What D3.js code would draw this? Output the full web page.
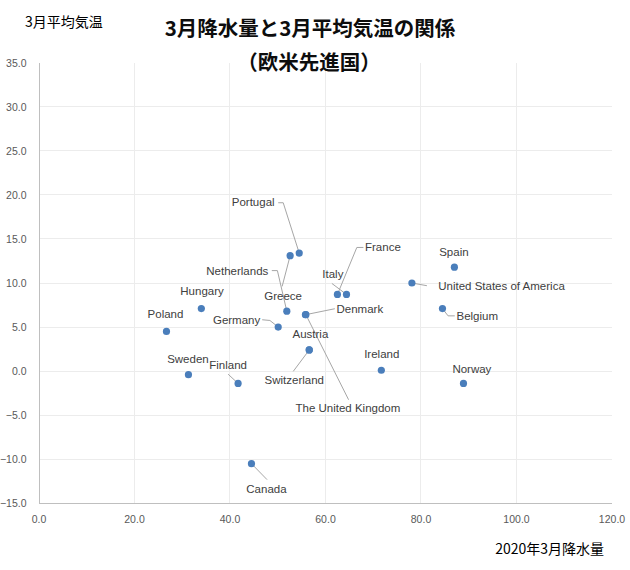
<!DOCTYPE html>
<html>
<head>
<meta charset="utf-8">
<script src="https://cdn.jsdelivr.net/npm/d3@7"></script>
<style>
  body { margin: 0; background: #fff; }
  svg { display: block; }
  .tick text { font-family: "Liberation Sans", Arial, sans-serif; font-size: 10.5px; fill: #595959; }
  .lbl { font-family: "Liberation Sans", Arial, sans-serif; font-size: 11.5px; fill: #404040; }
</style>
</head>
<body>
<svg id="chart"></svg>
<script>
// data
const countries = ["Portugal", "Greece", "Netherlands", "France", "Italy", "Denmark",
  "The United Kingdom", "Germany", "Hungary", "Poland", "Austria", "Switzerland",
  "Sweden", "Finland", "Canada", "Ireland", "Spain", "United States of America",
  "Belgium", "Norway"]
const precip = [54.6, 52.7, 52.0, 62.6, 64.5, 55.9, 56.0, 50.2, 34.1, 26.8, 56.7, 56.7,
  31.4, 41.8, 44.6, 71.8, 87.1, 78.2, 84.6, 89.0]
const temp = [13.4, 13.1, 6.8, 8.7, 8.7, 6.4, 6.4, 5.0, 7.1, 4.5, 2.4, 2.4,
  -0.4, -1.4, -10.5, 0.1, 11.8, 10.0, 7.1, -1.4]
const xTicks = [0, 20, 40, 60, 80, 100, 120]
const yTicks = [-15, -10, -5, 0, 5, 10, 15, 20, 25, 30, 35]

// label placement (pixel offsets from the point), like Excel's dragged labels
const labelPos = {
  "Portugal": [-46, -51], "Greece": [-7, 40], "Netherlands": [-49.5, -40.6],
  "France": [45.5, -47], "Italy": [-13.6, -20], "Denmark": [54.4, -5.3],
  "The United Kingdom": [42, 93.7], "Germany": [-41.6, -7.3], "Hungary": [0.7, -17.3],
  "Poland": [-1, -17.3], "Austria": [1.2, -16.3], "Switzerland": [-15, 29.7],
  "Sweden": [-0.5, -16], "Finland": [-10, -18.3], "Canada": [15, 25],
  "Ireland": [0.4, -16.3], "Spain": [-0.5, -15.6], "United States of America": [89.6, 2.7],
  "Belgium": [34.8, 7.3], "Norway": [8.4, -14]
}
const leaders = {
  "Portugal": [[-21, -50.3], [-16, -50.3]],
  "Greece": [[-8, 30.7]],
  "Netherlands": [[-15, -40.6], [-9.4, -40.6]],
  "France": [[26, -47], [19.4, -47]],
  "Italy": [[-14.6, -11]],
  "Denmark": [[29.4, -6]],
  "The United Kingdom": [[42.7, 85]],
  "Germany": [[-16, -7.3], [-8.3, -6.6]],
  "Switzerland": [[-16, 21.4]],
  "Finland": [[-10, -9.3]],
  "Canada": [[15.6, 16]],
  "United States of America": [[15, 2.7]],
  "Belgium": [[12.3, 7.3], [5.6, 7.3]]
}

const width = 630, height = 570
const svg = d3.select("#chart").attr("width", width).attr("height", height)

const x = d3.scaleLinear().domain([0, 120]).range([38.5, 611.5])
const y = d3.scaleLinear().domain([-15, 35]).range([503.3, 62.7])

const points = countries.map((c, i) => ({ name: c, px: precip[i], t: temp[i] }))

// gridlines
svg.append("g")
  .selectAll("line.h")
  .data(yTicks.filter(v => v > -15 && v < 35))
  .enter().append("line")
  .attr("x1", x(0)).attr("x2", x(120))
  .attr("y1", d => y(d)).attr("y2", d => y(d))
  .attr("stroke", "#ececec").attr("shape-rendering", "crispEdges")
svg.append("g")
  .selectAll("line.v")
  .data(xTicks.filter(v => v > 0 && v < 120))
  .enter().append("line")
  .attr("y1", y(-15)).attr("y2", y(35))
  .attr("x1", d => x(d)).attr("x2", d => x(d))
  .attr("stroke", "#ececec").attr("shape-rendering", "crispEdges")

// axes
svg.append("g")
  .attr("transform", `translate(0,${y(-15)})`)
  .call(d3.axisBottom(x).tickValues(xTicks).tickFormat(d3.format(".1f")).tickSize(0).tickPadding(12))
svg.append("g")
  .attr("transform", `translate(${x(0)},0)`)
  .call(d3.axisLeft(y).tickValues(yTicks).tickFormat(d3.format(".1f")).tickSize(0).tickPadding(12))
svg.selectAll(".domain").attr("stroke", "#bfbfbf").attr("shape-rendering", "crispEdges")

// leader lines
svg.append("g")
  .selectAll("path")
  .data(points.filter(d => leaders[d.name]))
  .enter().append("path")
  .attr("fill", "none")
  .attr("stroke", "#a6a6a6")
  .attr("stroke-width", 1)
  .attr("d", d => {
    const cx = x(d.px), cy = y(d.t)
    const pts = leaders[d.name].map(o => [cx + o[0], cy + o[1]])
    pts.push([cx, cy])
    return d3.line()(pts)
  })

// markers
svg.append("g")
  .selectAll("circle")
  .data(points)
  .enter().append("circle")
  .attr("cx", d => x(d.px))
  .attr("cy", d => y(d.t))
  .attr("r", 3.6)
  .attr("fill", "#4a7ebb")

// data labels
svg.append("g")
  .selectAll("text")
  .data(points)
  .enter().append("text")
  .attr("class", "lbl")
  .attr("x", d => x(d.px) + labelPos[d.name][0])
  .attr("y", d => y(d.t) + labelPos[d.name][1])
  .attr("text-anchor", "middle")
  .attr("dominant-baseline", "central")
  .text(d => d.name)

// titles
const jp = '"Noto Sans CJK JP", sans-serif'
svg.append("text")
  .attr("x", 310).attr("y", 27)
  .attr("text-anchor", "middle").attr("dominant-baseline", "central")
  .attr("font-family", jp).attr("font-weight", 700).attr("font-size", 20.5)
  .attr("fill", "#0d0d0d")
  .text("3月降水量と3月平均気温の関係")
svg.append("text")
  .attr("x", 309).attr("y", 61)
  .attr("text-anchor", "middle").attr("dominant-baseline", "central")
  .attr("font-family", jp).attr("font-weight", 700).attr("font-size", 20.5)
  .attr("fill", "#0d0d0d")
  .text("（欧米先進国）")
svg.append("text")
  .attr("x", 25).attr("y", 20.5)
  .attr("dominant-baseline", "central")
  .attr("font-family", jp).attr("font-size", 14)
  .attr("fill", "#000")
  .text("3月平均気温")
svg.append("text")
  .attr("x", 604).attr("y", 548)
  .attr("text-anchor", "end").attr("dominant-baseline", "central")
  .attr("font-family", jp).attr("font-size", 14)
  .attr("fill", "#000")
  .text("2020年3月降水量")
</script>
</body>
</html>
